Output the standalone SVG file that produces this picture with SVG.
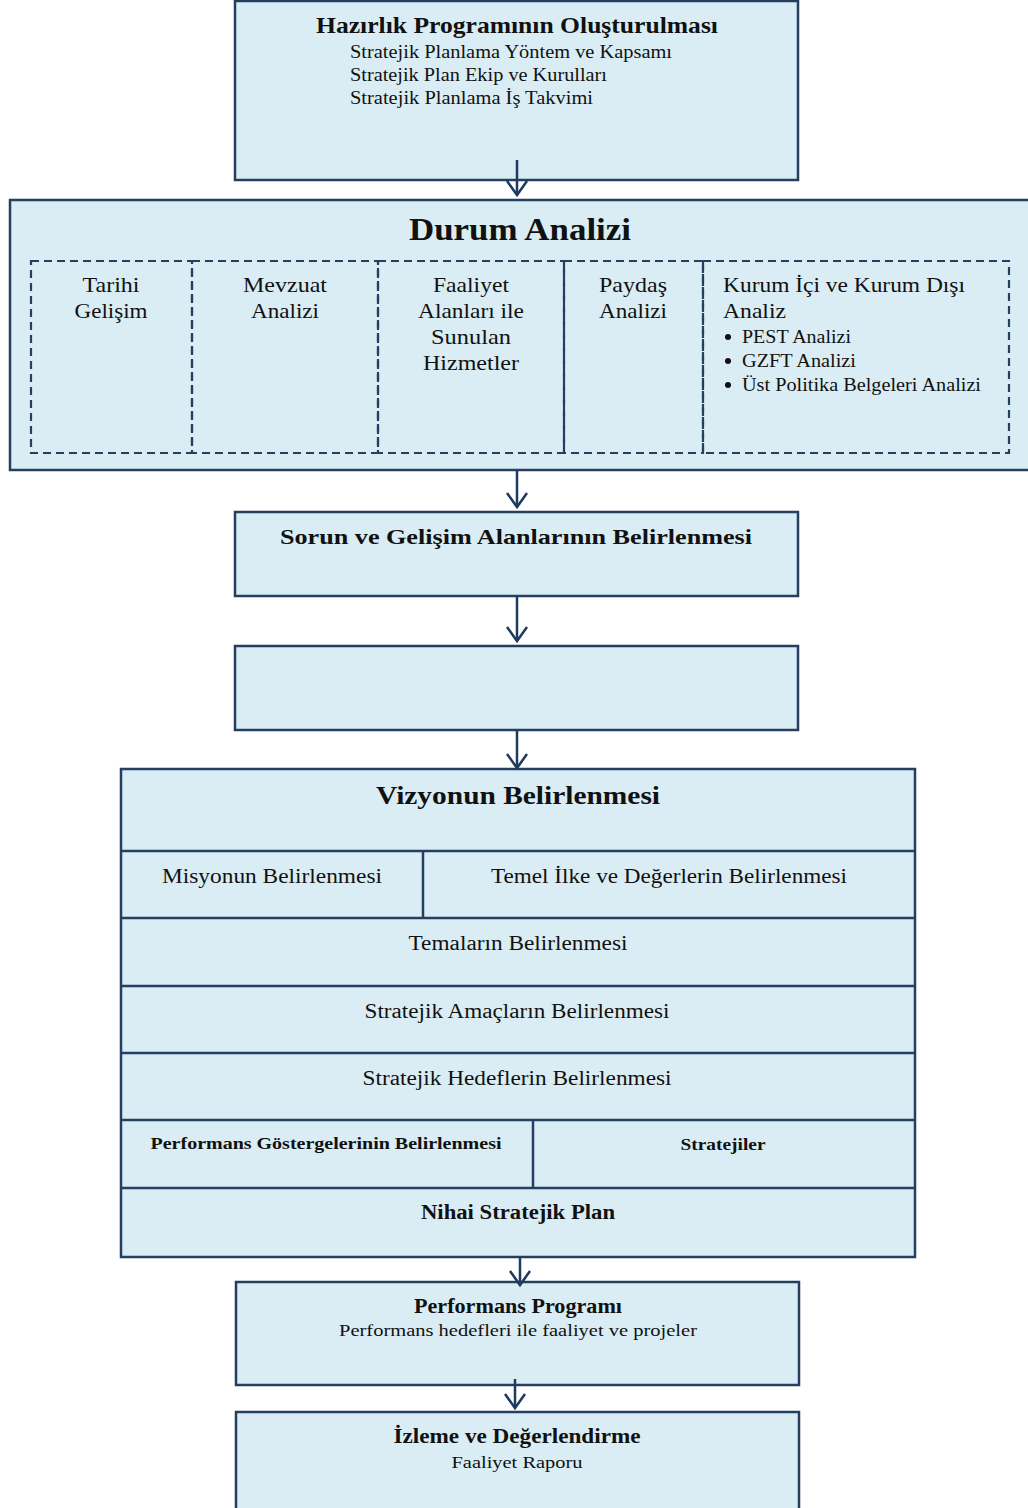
<svg xmlns="http://www.w3.org/2000/svg" width="1028" height="1508" viewBox="0 0 1028 1508">
<style>
.box{fill:#daedf4;stroke:#243f60;stroke-width:2.5}
.cell{fill:none;stroke:#243f60;stroke-width:2.2;stroke-dasharray:8 5}
.div{stroke:#243f60;stroke-width:2.5}
.t{font-family:"Liberation Serif","DejaVu Serif",serif;fill:#111}
.b{font-weight:bold}
.c{text-anchor:middle}
.conn{stroke:#1f3a5f;stroke-width:2.5;fill:none}
</style>
<defs>
<marker id="ah" markerUnits="userSpaceOnUse" markerWidth="24" markerHeight="24" viewBox="0 0 24 24" refX="20" refY="12" orient="auto">
<path d="M6,2 L20,12 L6,22" fill="none" stroke="#1f3a5f" stroke-width="2.5"/>
</marker>
</defs>

<g id="n1">
<rect class="box" x="235" y="1" width="563" height="179"/>
<text class="t b c" x="517" y="33" font-size="23" textLength="402" lengthAdjust="spacingAndGlyphs">Hazırlık Programının Oluşturulması</text>
<text class="t" x="350" y="58" font-size="18.5" textLength="322" lengthAdjust="spacingAndGlyphs">Stratejik Planlama Yöntem ve Kapsamı</text>
<text class="t" x="350" y="81" font-size="18.5" textLength="257" lengthAdjust="spacingAndGlyphs">Stratejik Plan Ekip ve Kurulları</text>
<text class="t" x="350" y="104" font-size="18.5" textLength="243" lengthAdjust="spacingAndGlyphs">Stratejik Planlama İş Takvimi</text>
</g>

<g id="n2">
<rect class="box" x="10" y="200" width="1030" height="270"/>
<text class="t b c" x="520" y="240" font-size="31" textLength="222" lengthAdjust="spacingAndGlyphs">Durum Analizi</text>
<rect class="cell" x="31" y="261" width="161" height="192"/>
<rect class="cell" x="192" y="261" width="186" height="192"/>
<rect class="cell" x="378" y="261" width="186" height="192"/>
<rect class="cell" x="564" y="261" width="139" height="192"/>
<rect class="cell" x="703" y="261" width="306" height="192"/>
<text class="t c" x="111" y="292" font-size="21.5" textLength="57" lengthAdjust="spacingAndGlyphs">Tarihi</text>
<text class="t c" x="111" y="318" font-size="21.5" textLength="73" lengthAdjust="spacingAndGlyphs">Gelişim</text>
<text class="t c" x="285" y="292" font-size="21.5" textLength="84" lengthAdjust="spacingAndGlyphs">Mevzuat</text>
<text class="t c" x="285" y="318" font-size="21.5" textLength="68" lengthAdjust="spacingAndGlyphs">Analizi</text>
<text class="t c" x="471" y="292" font-size="21.5" textLength="76" lengthAdjust="spacingAndGlyphs">Faaliyet</text>
<text class="t c" x="471" y="318" font-size="21.5" textLength="106" lengthAdjust="spacingAndGlyphs">Alanları ile</text>
<text class="t c" x="471" y="344" font-size="21.5" textLength="80" lengthAdjust="spacingAndGlyphs">Sunulan</text>
<text class="t c" x="471" y="370" font-size="21.5" textLength="96" lengthAdjust="spacingAndGlyphs">Hizmetler</text>
<text class="t" x="599" y="292" font-size="21.5" textLength="68" lengthAdjust="spacingAndGlyphs">Paydaş</text>
<text class="t" x="599" y="318" font-size="21.5" textLength="68" lengthAdjust="spacingAndGlyphs">Analizi</text>
<text class="t" x="723" y="292" font-size="21.5" textLength="242" lengthAdjust="spacingAndGlyphs">Kurum İçi ve Kurum Dışı</text>
<text class="t" x="723" y="318" font-size="21.5" textLength="63" lengthAdjust="spacingAndGlyphs">Analiz</text>
<circle cx="728" cy="337" r="3" fill="#111"/>
<circle cx="728" cy="361" r="3" fill="#111"/>
<circle cx="728" cy="385" r="3" fill="#111"/>
<text class="t" x="742" y="343" font-size="18.5" textLength="109" lengthAdjust="spacingAndGlyphs">PEST Analizi</text>
<text class="t" x="742" y="367" font-size="18.5" textLength="114" lengthAdjust="spacingAndGlyphs">GZFT Analizi</text>
<text class="t" x="742" y="391" font-size="18.5" textLength="239" lengthAdjust="spacingAndGlyphs">Üst Politika Belgeleri Analizi</text>
</g>

<g id="n3">
<rect class="box" x="235" y="512" width="563" height="84"/>
<text class="t b c" x="516" y="544" font-size="22" textLength="472" lengthAdjust="spacingAndGlyphs">Sorun ve Gelişim Alanlarının Belirlenmesi</text>
</g>

<g id="n4">
<rect class="box" x="235" y="646" width="563" height="84"/>
</g>

<g id="n5">
<rect class="box" x="121" y="769" width="794" height="488"/>
<line class="div" x1="121" y1="851" x2="915" y2="851"/>
<line class="div" x1="121" y1="918" x2="915" y2="918"/>
<line class="div" x1="121" y1="986" x2="915" y2="986"/>
<line class="div" x1="121" y1="1053" x2="915" y2="1053"/>
<line class="div" x1="121" y1="1120" x2="915" y2="1120"/>
<line class="div" x1="121" y1="1188" x2="915" y2="1188"/>
<line class="div" x1="423" y1="851" x2="423" y2="918"/>
<line class="div" x1="533" y1="1120" x2="533" y2="1188"/>
<text class="t b c" x="518" y="804" font-size="25" textLength="284" lengthAdjust="spacingAndGlyphs">Vizyonun Belirlenmesi</text>
<text class="t c" x="272" y="883" font-size="20.5" textLength="220" lengthAdjust="spacingAndGlyphs">Misyonun Belirlenmesi</text>
<text class="t c" x="669" y="883" font-size="20.5" textLength="356" lengthAdjust="spacingAndGlyphs">Temel İlke ve Değerlerin Belirlenmesi</text>
<text class="t c" x="518" y="950" font-size="20.5" textLength="219" lengthAdjust="spacingAndGlyphs">Temaların Belirlenmesi</text>
<text class="t c" x="517" y="1018" font-size="20.5" textLength="305" lengthAdjust="spacingAndGlyphs">Stratejik Amaçların Belirlenmesi</text>
<text class="t c" x="517" y="1085" font-size="20.5" textLength="309" lengthAdjust="spacingAndGlyphs">Stratejik Hedeflerin Belirlenmesi</text>
<text class="t b c" x="326" y="1149" font-size="17" textLength="351" lengthAdjust="spacingAndGlyphs">Performans Göstergelerinin Belirlenmesi</text>
<text class="t b c" x="723" y="1150" font-size="17" textLength="85" lengthAdjust="spacingAndGlyphs">Stratejiler</text>
<text class="t b c" x="518" y="1219" font-size="20" textLength="194" lengthAdjust="spacingAndGlyphs">Nihai Stratejik Plan</text>
</g>

<g id="n6">
<rect class="box" x="236" y="1282" width="563" height="103"/>
<text class="t b c" x="518" y="1313" font-size="20" textLength="208" lengthAdjust="spacingAndGlyphs">Performans Programı</text>
<text class="t c" x="518" y="1336" font-size="17.5" textLength="358" lengthAdjust="spacingAndGlyphs">Performans hedefleri ile faaliyet ve projeler</text>
</g>

<g id="n7">
<rect class="box" x="236" y="1412" width="563" height="110"/>
<text class="t b c" x="517" y="1443" font-size="20" textLength="247" lengthAdjust="spacingAndGlyphs">İzleme ve Değerlendirme</text>
<text class="t c" x="517" y="1468" font-size="17.5" textLength="131" lengthAdjust="spacingAndGlyphs">Faaliyet Raporu</text>
</g>

<g id="connectors">
<line class="conn" x1="517" y1="160" x2="517" y2="195" marker-end="url(#ah)"/>
<line class="conn" x1="517" y1="470" x2="517" y2="507" marker-end="url(#ah)"/>
<line class="conn" x1="517" y1="596" x2="517" y2="641" marker-end="url(#ah)"/>
<line class="conn" x1="517" y1="730" x2="517" y2="768" marker-end="url(#ah)"/>
<line class="conn" x1="520" y1="1257" x2="520" y2="1285" marker-end="url(#ah)"/>
<line class="conn" x1="515" y1="1379" x2="515" y2="1408" marker-end="url(#ah)"/>
</g>
</svg>
